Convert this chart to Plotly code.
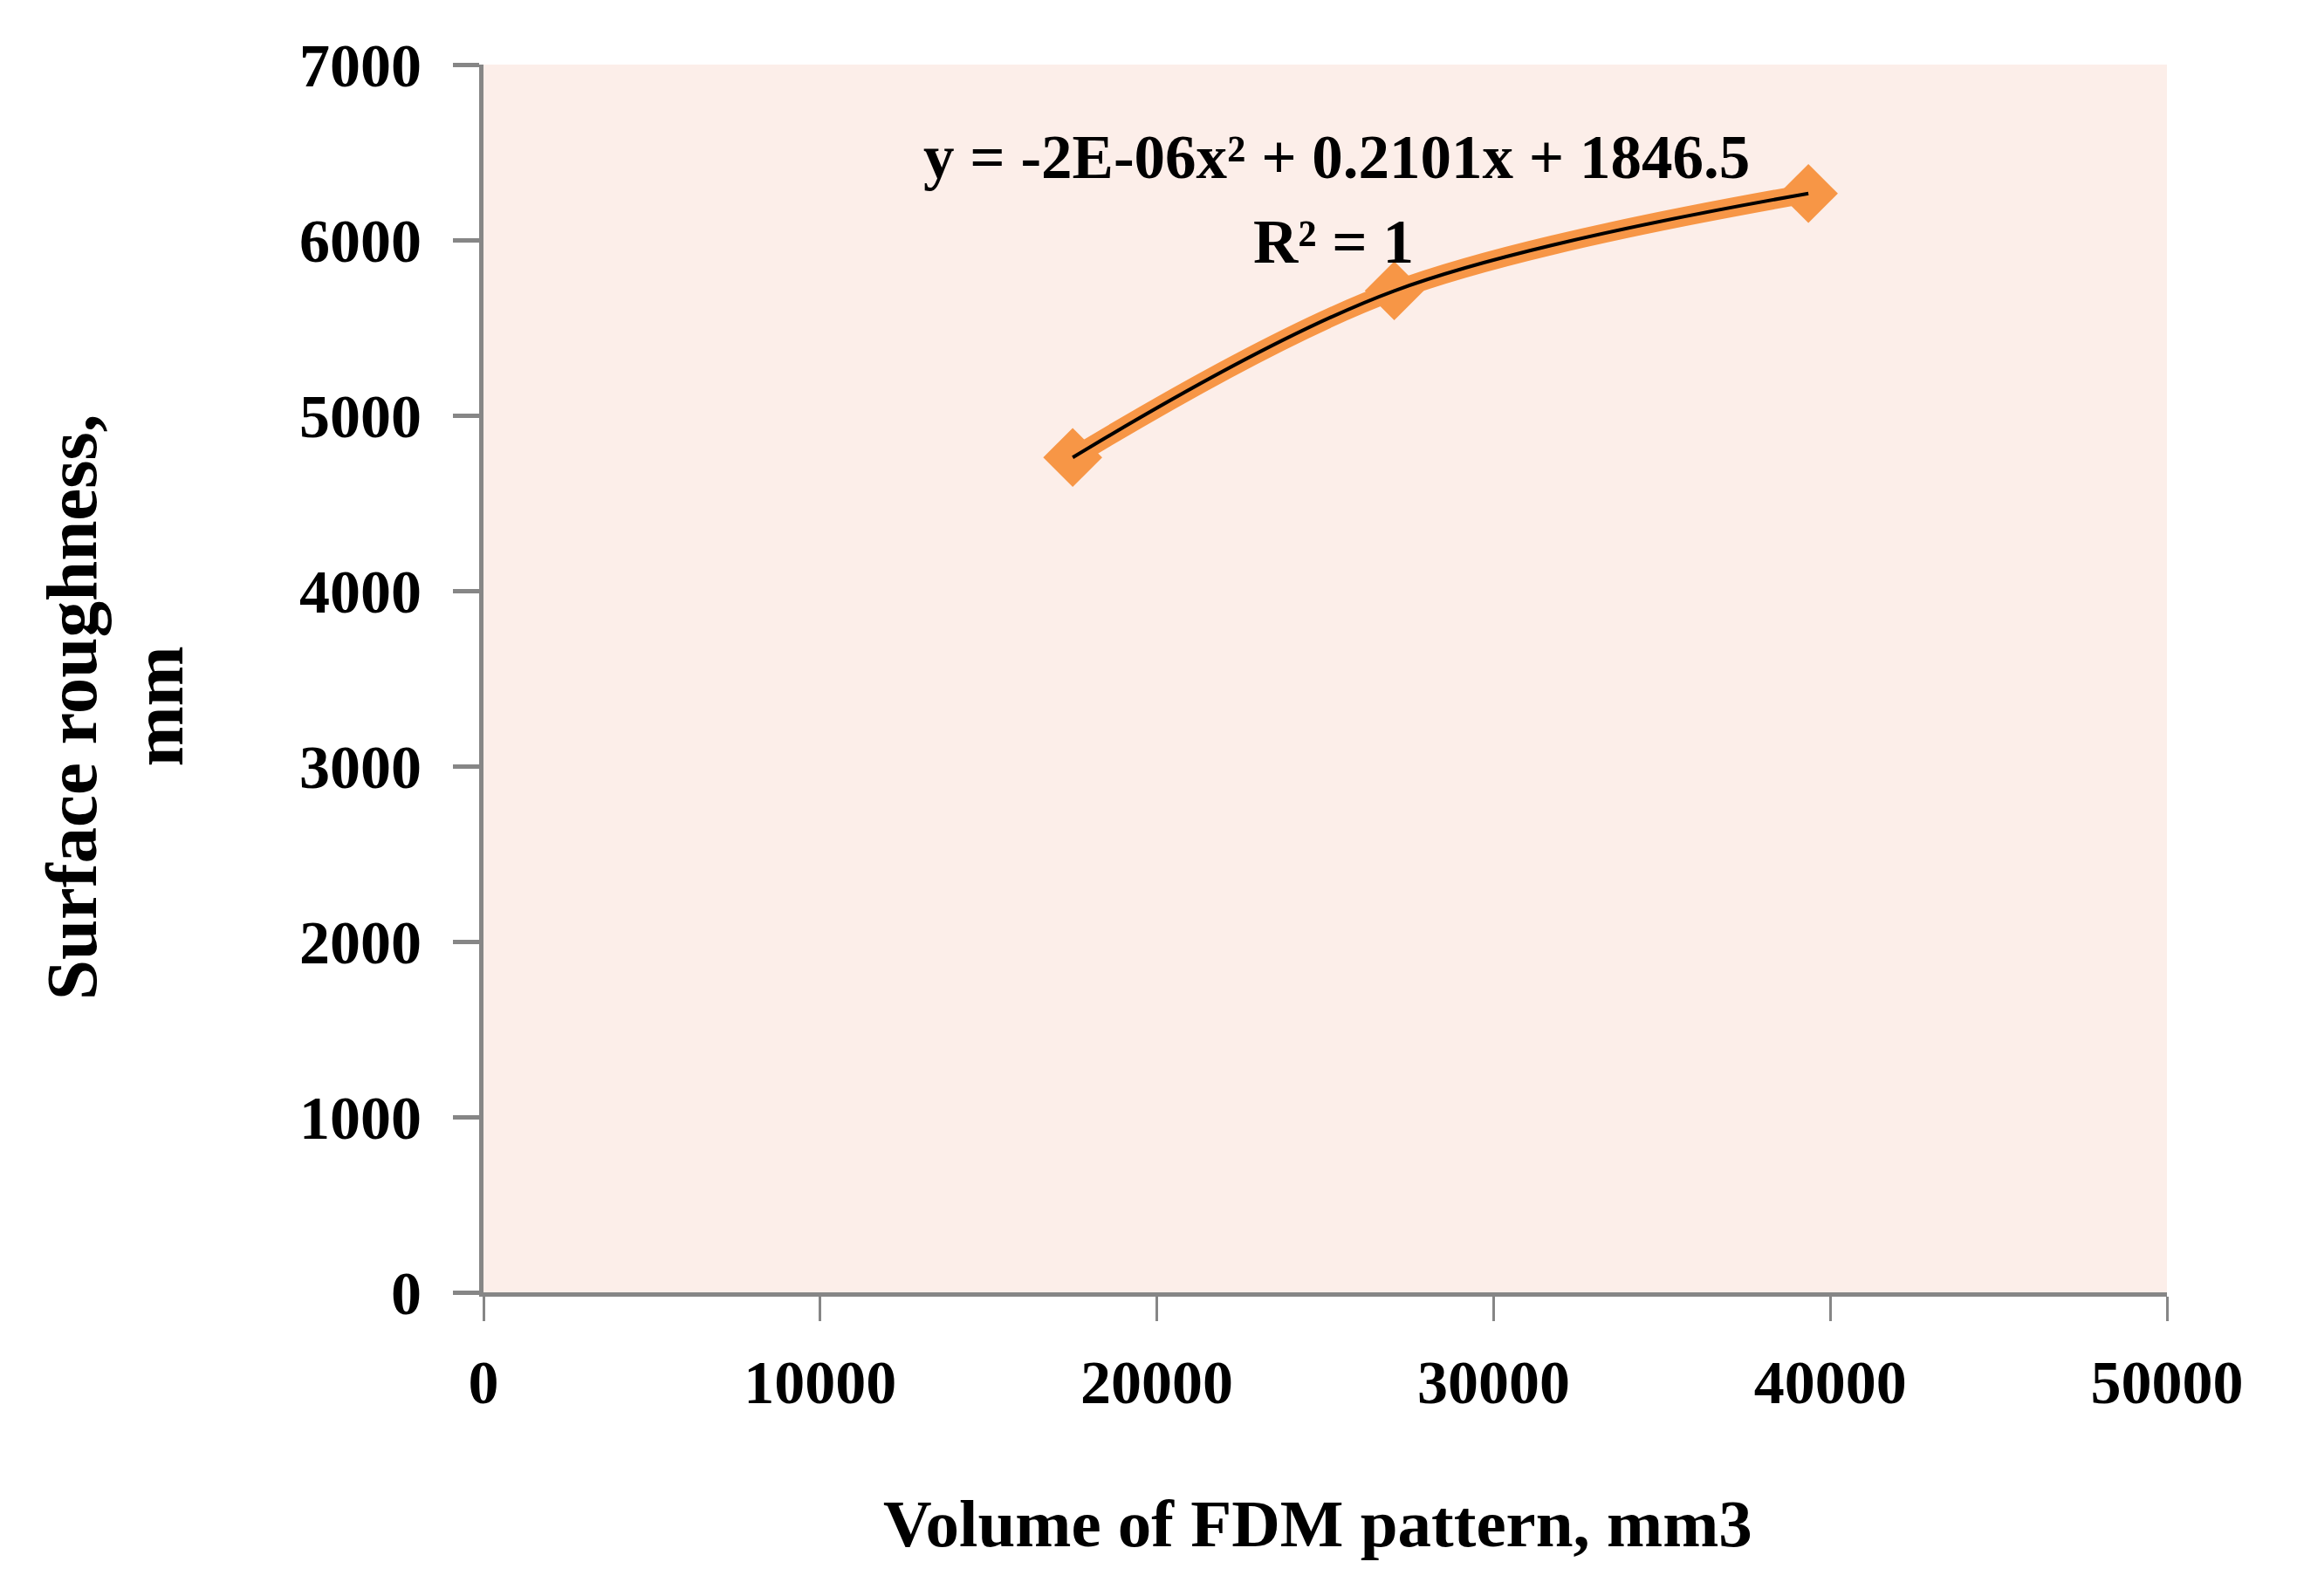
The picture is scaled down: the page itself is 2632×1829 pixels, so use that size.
import plotly.graph_objects as go

# Data
volume_mm3 = [17500, 27050, 39350]
roughness = [4760, 5710, 6265]

x_ticks = [0, 10000, 20000, 30000, 40000, 50000]
y_ticks = [0, 1000, 2000, 3000, 4000, 5000, 6000, 7000]

eq_text = "y = -2E-06x² + 0.2101x + 1846.5"
r2_text = "R² = 1"
x_title = "Volume of FDM pattern, mm3"
y_title_lines = ["Surface roughness,", "mm"]

W, H = 2632, 1829
L, R, T, B = 546, 157, 66, 356

FONT = dict(family="Liberation Serif", size=70, color="black", weight="bold")
EQ_FONT = dict(family="Liberation Serif", size=71, color="black", weight="bold")
TITLE_FONT = dict(family="Liberation Serif", size=77, color="black", weight="bold")
YTITLE_FONT = dict(family="Liberation Serif", size=83, color="black", weight="bold")
ORANGE = "#F79646"
GRAY = "#868686"

fig = go.Figure()

fig.add_trace(go.Scatter(
    x=volume_mm3, y=roughness,
    mode="lines+markers",
    line=dict(color=ORANGE, width=22, shape="spline"),
    marker=dict(symbol="diamond", size=52, color=ORANGE, line=dict(width=0)),
    showlegend=False, hoverinfo="x+y",
))
fig.add_trace(go.Scatter(
    x=volume_mm3, y=roughness,
    mode="lines",
    line=dict(color="black", width=4, shape="spline"),
    showlegend=False, hoverinfo="skip",
))

annotations = [
    dict(text=eq_text, xref="paper", yref="paper", x=0.5065, y=0.9247,
         xanchor="center", yanchor="middle", showarrow=False, font=EQ_FONT),
    dict(text=r2_text, xref="paper", yref="paper", x=0.5048, y=0.8557,
         xanchor="center", yanchor="middle", showarrow=False, font=EQ_FONT),
    dict(text=x_title, xref="paper", yref="paper", x=0.4958, y=-0.188,
         xanchor="center", yanchor="middle", showarrow=False, font=TITLE_FONT),
]
for line_text, xpos in zip(y_title_lines, [-0.2445, -0.1935]):
    annotations.append(dict(text=line_text, xref="paper", yref="paper", x=xpos, y=0.477,
                            xanchor="center", yanchor="middle", showarrow=False,
                            font=YTITLE_FONT, textangle=-90))

fig.update_layout(
    width=W, height=H,
    margin=dict(l=L, r=R, t=T, b=B),
    paper_bgcolor="white",
    plot_bgcolor="#FCEEE9",
    font=FONT,
    xaxis=dict(
        range=[0, 50000], tickvals=x_ticks, ticktext=[str(v) for v in x_ticks],
        showgrid=False, zeroline=False,
        showline=True, linecolor=GRAY, linewidth=5,
        ticks="outside", ticklen=28, tickwidth=3, tickcolor=GRAY,
        tickfont=FONT, ticklabelstandoff=10,
    ),
    yaxis=dict(
        range=[0, 7000], tickvals=y_ticks, ticktext=[str(v) for v in y_ticks],
        showgrid=False, zeroline=False,
        showline=True, linecolor=GRAY, linewidth=5,
        ticks="outside", ticklen=30, tickwidth=5, tickcolor=GRAY,
        tickfont=FONT, ticklabelstandoff=22,
    ),
    annotations=annotations,
)

fig.write_html("out.html")
